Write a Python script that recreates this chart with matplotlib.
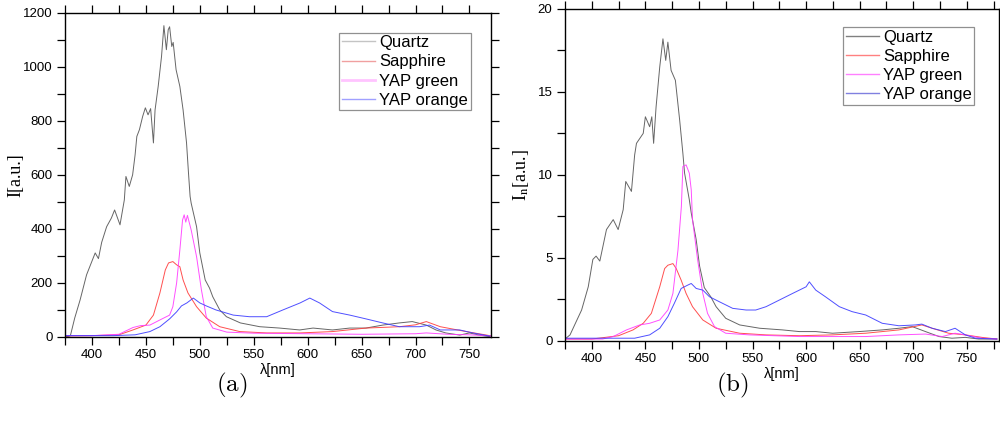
import numpy as np
import matplotlib
matplotlib.use("Agg")
import matplotlib.pyplot as plt
from matplotlib.lines import Line2D
from matplotlib.ticker import MultipleLocator

# (wavelength nm, intensity), panel (a)
quartz_a = [(375, 1), (378, 2), (380, 5), (384, 70), (389, 137), (395, 230), (403, 311), (406, 290),
            (409, 350), (413.6, 408), (418, 440), (421, 470), (426, 415), (430, 507), (431.5, 594),
            (434.6, 557), (437.7, 600), (440, 674), (441.6, 742), (444, 767), (447, 816), (449.5, 848),
            (452, 822), (454.4, 845), (457, 718), (458.5, 840), (461.4, 927), (464.5, 1038), (466.7, 1152),
            (469, 1063), (470.7, 1137), (472, 1148), (474, 1075), (475.3, 1090), (478, 989), (481.5, 927),
            (484.5, 840), (487.7, 718), (489.5, 607), (491, 520), (492, 495), (497, 408), (500, 311),
            (505, 211), (509, 181), (512, 149), (518.5, 100), (524.7, 75), (537.6, 52), (555.6, 38),
            (574, 33), (592.6, 26), (605, 33), (623, 26), (639, 33), (654, 33), (669.6, 44), (685, 52),
            (697, 57), (710, 44), (719, 26), (728, 15), (741, 7), (750, 15), (759, 7), (769, 1)]
sapphire_a = [(375, 4), (400, 5), (425, 8), (438, 26), (450, 44), (457, 81), (463, 163), (468, 248),
              (471, 274), (475, 279), (478.5, 267), (481.5, 260), (484.5, 211), (489, 163), (497, 112),
              (506, 70), (518.5, 38), (537, 20), (562, 15), (593, 15), (623, 20), (654, 33), (685, 38),
              (700, 45), (710, 57), (723, 38), (747, 20), (766, 7), (770, 4)]
yap_green_a = [(375, 5), (400, 5), (425, 10), (438, 35), (445, 42), (453.7, 44), (463, 63), (472, 81),
               (475, 112), (478.5, 200), (481.5, 322), (484, 433), (485.5, 452), (487, 425), (488.5, 450),
               (492, 396), (497, 297), (501.5, 174), (506, 75), (512, 33), (525, 18), (550, 14), (600, 12),
               (650, 10), (700, 12), (710, 15), (730, 10), (750, 8), (770, 4)]
yap_orange_a = [(375, 5), (420, 5), (440, 8), (453.7, 20), (463, 38), (472, 67), (478.5, 93), (483, 115),
                (488, 126), (494, 144), (500, 126), (506, 115), (515, 100), (531, 81), (546, 75), (562, 75),
                (577, 100), (593, 126), (602, 144), (611, 126), (623, 94), (639, 81), (654, 67), (669.6, 52),
                (685, 38), (703.7, 38), (713, 44), (723, 26), (741, 26), (753, 15), (769, 3)]

# panel (b), normalised intensity
quartz_b = [(375, 0.1), (379.7, 0.35), (384, 0.95), (390.5, 1.85), (396.7, 3.25), (401, 4.9), (404, 5.1),
            (407.5, 4.8), (413.7, 6.7), (420, 7.3), (424.6, 6.7), (429.3, 7.9), (431.7, 9.6), (437, 9.0),
            (440, 11.2), (441.7, 11.9), (448, 12.5), (450, 13.5), (454, 12.9), (456, 13.5), (457.7, 11.9),
            (460, 14.1), (463.4, 16.5), (466.4, 18.2), (469, 16.9), (471, 18.0), (474, 16.3), (478, 15.7),
            (482, 13.3), (485, 11.3), (486.6, 10.1), (491, 8.5), (492.8, 7.7), (497.4, 6.1), (500.6, 4.5),
            (505, 3.2), (511, 2.65), (516, 2.05), (525, 1.35), (538, 0.95), (556.7, 0.75), (578, 0.65),
            (593.6, 0.55), (609, 0.55), (624.6, 0.45), (649.4, 0.55), (671, 0.65), (686.6, 0.75),
            (699, 0.85), (711.4, 0.55), (724, 0.25), (736, 0.15), (748.6, 0.2), (761, 0.1), (778, 0.1)]
sapphire_b = [(375, 0.1), (400, 0.1), (425, 0.3), (438.5, 0.65), (448, 1.05), (455.6, 1.65), (463.4, 3.25),
              (468, 4.35), (471, 4.55), (475.7, 4.65), (478.8, 4.35), (483.4, 3.65), (488, 2.85), (494, 2.05),
              (503.6, 1.25), (516, 0.75), (538, 0.45), (562.6, 0.35), (593.6, 0.3), (624.6, 0.35),
              (655.6, 0.45), (686.6, 0.65), (708, 0.95), (717.6, 0.75), (733, 0.45), (748.6, 0.35),
              (764, 0.2), (778, 0.1)]
yap_green_b = [(375, 0.1), (410, 0.1), (420, 0.25), (432.4, 0.65), (444.8, 0.95), (454, 1.05), (463.4, 1.25),
               (471, 1.85), (475.7, 2.85), (480.4, 5.45), (483.6, 8.1), (485, 10.5), (488, 10.6), (491, 10.1),
               (492.8, 9.1), (494, 7.3), (498.7, 4.9), (503.6, 2.85), (508, 1.65), (514.5, 0.85), (525, 0.45),
               (547, 0.35), (593.6, 0.25), (655.6, 0.25), (686.6, 0.35), (711.4, 0.4), (727, 0.25),
               (739, 0.45), (748.6, 0.35), (764, 0.15), (778, 0.1)]
yap_orange_b = [(375, 0.15), (440, 0.15), (454, 0.35), (463.4, 0.75), (471, 1.45), (477, 2.25), (483.4, 3.15),
                (489.5, 3.35), (492.8, 3.45), (497.4, 3.15), (503.6, 3.05), (509.8, 2.65), (519, 2.35),
                (531.5, 1.95), (544, 1.85), (553, 1.85), (562.6, 2.05), (575, 2.45), (587.4, 2.85),
                (600, 3.25), (603, 3.55), (609, 3.05), (618, 2.65), (631, 2.05), (643, 1.75), (655.6, 1.55),
                (671, 1.05), (686.6, 0.9), (702, 0.95), (708, 1.0), (717.6, 0.75), (730, 0.55), (739, 0.75),
                (748.6, 0.35), (758, 0.15), (778, 0.1)]

labels = ["Quartz", "Sapphire", "YAP green", "YAP orange"]
colors = ["#555555", "#ff3c3c", "#ff3cff", "#3c3cff"]
legend_colors_a = ["#c4c4c4", "#f0a0a0", "#ffc4ff", "#a0a0ff"]
legend_colors_b = ["#808080", "#ff8080", "#ff80ff", "#8080e0"]

plt.rcParams["font.family"] = ["Liberation Sans", "DejaVu Sans"]

fig = plt.figure(figsize=(10, 4.42), dpi=100)
ax_a = fig.add_axes([0.065, 0.2376, 0.426, 0.7337])
ax_b = fig.add_axes([0.565, 0.2292, 0.434, 0.7505])


def style_axes(ax, xlim, ylim, ymaj, ymin):
    ax.set_xlim(*xlim)
    ax.set_ylim(*ylim)
    ax.xaxis.set_major_locator(MultipleLocator(50))
    ax.xaxis.set_minor_locator(MultipleLocator(25))
    ax.yaxis.set_major_locator(MultipleLocator(ymaj))
    ax.yaxis.set_minor_locator(MultipleLocator(ymin))
    ax.tick_params(which="both", direction="out", length=5.5, width=0.9,
                   top=True, right=True, labelsize=9.5, pad=3.5)
    for sp in ax.spines.values():
        sp.set_linewidth(1.0)
    ax.set_xlabel("λ[nm]", fontsize=10.5, labelpad=1)


panels = [
    (ax_a, [quartz_a, sapphire_a, yap_green_a, yap_orange_a], legend_colors_a, (375, 770), (0, 1200), 200, 100,
     "I[a.u.]", -0.096, (0.952, 0.938), r"$\mathrm{(a)}$", 0.232),
    (ax_b, [quartz_b, sapphire_b, yap_green_b, yap_orange_b], legend_colors_b, (375, 780), (0, 20), 5, 2.5,
     r"I$_{\rm n}$[a.u.]", -0.078, (0.943, 0.945), r"$\mathrm{(b)}$", 0.732),
]

for ax, series, leg_cols, xlim, ylim, ymaj, ymin, ylab, ylab_x, anchor, cap, capx in panels:
    for data, c in zip(series, colors):
        arr = np.array(data).T
        ax.plot(arr[0], arr[1], color=c, lw=0.7, alpha=0.9)
    style_axes(ax, xlim, ylim, ymaj, ymin)
    ax.set_ylabel(ylab, family=["Liberation Serif", "DejaVu Serif"], fontsize=13,
                  math_fontfamily="stix")
    ax.yaxis.set_label_coords(ylab_x, 0.5)
    handles = [Line2D([], [], color=lc, lw=2.0 if i == 2 and ax is ax_a else 1.0)
               for i, lc in enumerate(leg_cols)]
    leg = ax.legend(handles, labels, loc="upper right", bbox_to_anchor=anchor, fontsize=12,
                    frameon=True, fancybox=False, framealpha=1, edgecolor="#909090",
                    borderpad=0.15, labelspacing=0.25, handlelength=2.0, handletextpad=0.25,
                    borderaxespad=0)
    leg.get_frame().set_linewidth(0.9)
    fig.text(capx, 0.129, cap, fontsize=18, ha="center", va="center", math_fontfamily="cm")

fig.savefig("out.png", dpi=100)
